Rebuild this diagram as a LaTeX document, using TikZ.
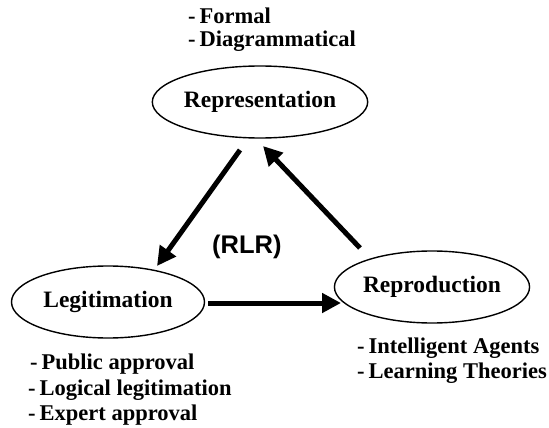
\documentclass[tikz,border=0pt]{standalone}
\usepackage{fontspec}
\setmainfont{Liberation Serif}
\newfontfamily\arialfont{Liberation Sans}
\usetikzlibrary{shapes.geometric,arrows.meta}
\tikzset{
  stage/.style={ellipse, draw, line width=1.4pt, inner sep=0pt, minimum width=193pt, minimum height=72pt,
    font=\fontsize{23.5}{26}\selectfont\bfseries},
  item/.style={anchor=base west, inner sep=0pt, font=\fontsize{22.5}{24}\selectfont\bfseries},
  arr/.style={line width=5pt, -{Triangle[length=19pt,width=19pt]}},
}
\begin{document}
\begin{tikzpicture}[x=1pt,y=-1pt]
\useasboundingbox (0,0) rectangle (549,428);
\node[stage] (rep) at (260,102) {Representation};
\node[stage] (leg) at (108,302) {Legitimation};
\node[stage] (repro) at (432,287) {Reproduction};
\node[item] (f1) at (188,24) {-\hspace{4pt}Formal};
\node[item] (f2) at (188,47) {-\hspace{4pt}Diagrammatical};
\node[item] (l1) at (30,369) {-\hspace{4pt}Public approval};
\node[item] (l2) at (28,395) {-\hspace{4pt}Logical legitimation};
\node[item] (l3) at (28,420) {-\hspace{4pt}Expert approval};
\node[item] (r1) at (357,353) {-\hspace{4pt}Intelligent Agents};
\node[item] (r2) at (357,378) {-\hspace{4pt}Learning Theories};
\node[anchor=base west, inner sep=0pt, font=\arialfont\fontsize{25.5}{27}\selectfont\bfseries] (rlr) at (212,253) {(RLR)};
\coordinate (a1s) at (240,150);
\coordinate (a1e) at (157,266);
\coordinate (a2s) at (360,248);
\coordinate (a2e) at (263,146);
\coordinate (a3s) at (208,303);
\coordinate (a3e) at (341,303);
\draw[arr] (a1s) -- (a1e);
\draw[arr] (a2s) -- (a2e);
\draw[arr] (a3s) -- (a3e);
\end{tikzpicture}
\end{document}
